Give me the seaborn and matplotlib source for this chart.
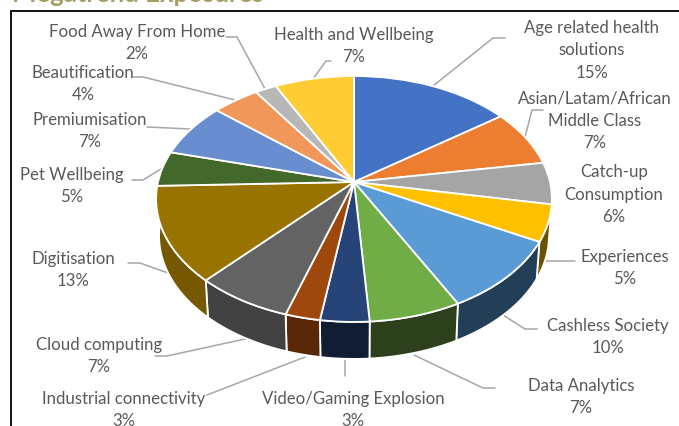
import numpy as np
import matplotlib
matplotlib.use('Agg')
import matplotlib.pyplot as plt
from matplotlib.transforms import Transform
import seaborn as sns

categories = ['Age related health\nsolutions', 'Asian/Latam/African\nMiddle Class', 'Catch-up\nConsumption',
              'Experiences', 'Cashless Society', 'Data Analytics', 'Video/Gaming Explosion',
              'Industrial connectivity', 'Cloud computing', 'Digitisation', 'Pet Wellbeing',
              'Premiumisation', 'Beautification', 'Food Away From Home', 'Health and Wellbeing']
# slice sizes, the labels are the rounded ones printed on the chart
shares = [15.0, 7.4, 5.5, 4.8, 9.6, 6.6, 3.5, 2.5, 7.0, 12.6, 4.6, 7.1, 4.4, 2.0, 7.4]
pct_labels = ['15%', '7%', '6%', '5%', '10%', '7%', '3%', '3%', '7%', '13%', '5%', '7%', '4%', '2%', '7%']

top_colors = ['#4472C4', '#ED7D31', '#A5A5A5', '#FFC000', '#5B9BD5', '#70AD47', '#264478', '#9E480E',
              '#636363', '#997300', '#43682B', '#698ED0', '#F1975A', '#B7B7B7', '#FFCD33']
wall_colors = ['#223962', '#773E18', '#525252', '#6B5200', '#233F58', '#2D401C', '#101D33', '#5A2808',
               '#424242', '#755800', '#223415', '#34476A', '#78492B', '#5B5B5B', '#806619']

# label centres and leader lines, in picture pixels
label_xy = [(592, 50), (595, 121), (614, 195), (625, 268), (608, 337), (581, 397), (353, 410),
            (124, 410), (99, 356), (73, 270), (72, 186), (90, 131), (83, 84), (137, 43), (354, 46)]
leaders = [[(505, 38), (493, 38), (433, 86)], [(543, 110), (532, 110), (525, 137)], None,
           [(575, 261), (543, 261)], [(537, 329), (525, 329), (503, 315)], [(495, 388), (483, 388), (414, 355)],
           [(345, 376), (345, 360)], [(207, 395), (305, 357)], [(155, 356), (167, 356), (245, 339)],
           [(128, 263), (140, 263), (168, 273)], [(132, 180), (143, 180), (161, 169)], [(147, 127), (190, 129)],
           [(133, 77), (143, 77), (235, 100)], [(226, 37), (237, 37), (265, 89)], [(331, 61), (326, 61), (313, 79)]]

APEX_X, APEX_Y = 354, 182
RX, RY, TILT = 196, 120.6, 0.138
DEPTH = 37


# Unit circle to picture pixels, the far side of the pie comes out smaller
class PieTilt(Transform):
    input_dims = 2
    output_dims = 2
    is_separable = False

    def transform_non_affine(self, values):
        values = np.asarray(values, dtype=float)
        w = 1 + TILT * values[:, 1]
        return np.column_stack([APEX_X + RX * values[:, 0] / w, APEX_Y - RY * values[:, 1] / w])


sns.set_theme(style='white')
plt.rcParams['font.family'] = ['Lato', 'DejaVu Sans']

fig = plt.figure(figsize=(6.79, 4.26), dpi=100)
ax = fig.add_axes([0, 0, 1, 1])

wedges, _ = ax.pie(shares, startangle=90, counterclock=False, colors=top_colors,
                   wedgeprops=dict(edgecolor='white', linewidth=1.3, zorder=3))
ax.set_aspect('auto')
ax.set_xlim(0, 679)
ax.set_ylim(426, 0)
ax.set_axis_off()

tilt = PieTilt()
for wedge, wall in zip(wedges, wall_colors):
    # side of the slice, the top faces are drawn over whatever does not show
    t = np.radians(np.linspace(wedge.theta1, wedge.theta2, 40))
    rim = tilt.transform_non_affine(np.column_stack([np.cos(t), np.sin(t)]))
    low = rim.copy()
    low[:, 0] = APEX_X + (rim[:, 0] - APEX_X) * 0.985
    low[:, 1] = rim[:, 1] + DEPTH
    ax.fill(np.r_[rim[:, 0], low[::-1, 0]], np.r_[rim[:, 1], low[::-1, 1]],
            color=wall, ec='white', lw=1.3, zorder=2)
    wedge.set_transform(tilt + ax.transData)

for line in leaders:
    if line:
        xs, ys = zip(*line)
        ax.plot(xs, ys, color='#A6A6A6', lw=1.1, zorder=1, solid_joinstyle='miter')

for name, pct, (x, y) in zip(categories, pct_labels, label_xy):
    ax.text(x, y, f'{name}\n{pct}', ha='center', va='center', fontsize=12.1, color='#595959',
            linespacing=1.5, zorder=5, clip_on=False)

# frame of the chart box, it runs off the picture at the right and the bottom
ax.plot([11, 11, 679], [426, 11, 11], color='black', lw=1.3, zorder=6, solid_joinstyle='miter')
ax.text(12, 2.5, 'Megatrend Exposures', fontsize=18.5, fontweight='bold', color='#A39D5F', ha='left', va='baseline')

fig.savefig('out.png', dpi=100)
